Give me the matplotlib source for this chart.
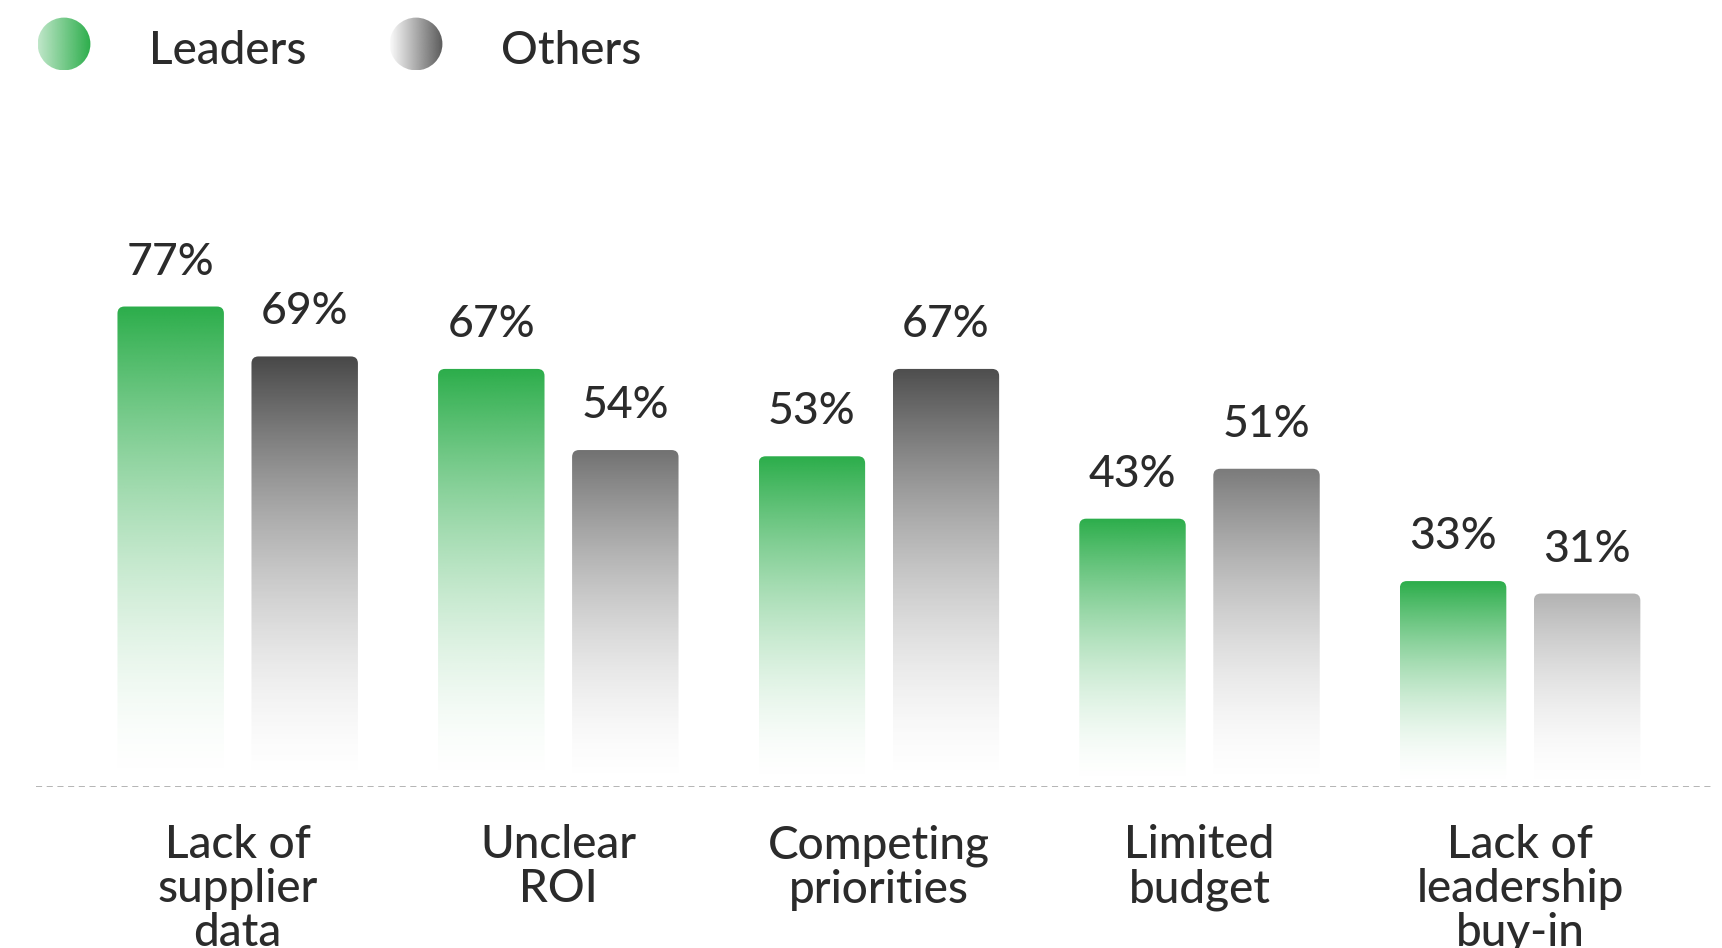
import numpy as np
import matplotlib
matplotlib.use("Agg")
import matplotlib.pyplot as plt
from matplotlib.patches import FancyBboxPatch, Circle
from matplotlib.colors import to_rgb

# survey results: share of respondents naming each barrier (%)
categories = ["Lack of\nsupplier\ndata", "Unclear\nROI", "Competing\npriorities",
              "Limited\nbudget", "Lack of\nleadership\nbuy-in"]
leaders = [77, 67, 53, 43, 33]
others = [69, 54, 67, 51, 31]
series_names = ["Leaders", "Others"]

GREEN = "#2bad4a"
TEXT = "#2b2b2b"
plt.rcParams["font.family"] = ["Lato", "DejaVu Sans"]

W, H = 1722, 948
fig = plt.figure(figsize=(W / 100, H / 100), dpi=100)
base_px = 787
ax = fig.add_axes([0, (H - base_px) / H, 1, 624 / H])
ax.set_xlim(-0.7414, 4.6297)
ax.set_ylim(0, 100)
ax.axis("off")

x = np.arange(len(categories))
width = 0.332
off = 0.209


def grad_bar(ax, xc, value, color, r_px=7, power=1.7):
    x0 = xc - width / 2
    sx = ax.bbox.width / np.ptp(ax.get_xlim())
    sy = ax.bbox.height / np.ptp(ax.get_ylim())
    patch = FancyBboxPatch((x0, 0), width, value,
                           boxstyle=f"round,pad=0,rounding_size={r_px / sx}",
                           mutation_aspect=sx / sy, fc="none", ec="none")
    ax.add_patch(patch)
    f = np.linspace(0, 1, 256)[:, None]
    rgba = np.zeros((256, 1, 4))
    rgba[..., :3] = to_rgb(color)
    rgba[..., 3] = (1 - f) ** power
    im = ax.imshow(rgba, extent=(x0, x0 + width, 0, value), aspect="auto",
                   origin="upper", interpolation="bilinear", zorder=2)
    im.set_clip_path(patch)


for i in x:
    grad_bar(ax, i - off, leaders[i], GREEN)
    # darker grey for the larger "Others" shares
    g = np.interp(others[i], [31, 69], [0.70, 0.28])
    grad_bar(ax, i + off, others[i], (g, g, g))
    for xc, v in ((i - off, leaders[i]), (i + off, others[i])):
        ax.annotate(f"{v}%", (xc, v), xytext=(0, 23), textcoords="offset points",
                    ha="center", va="baseline", fontsize=32, color=TEXT,
                    fontweight=500)
    ax.annotate(categories[i], (i, 0), xytext=(0, -27), textcoords="offset points",
                ha="center", va="top", multialignment="center",
                fontsize=33, color=TEXT, linespacing=1.05, fontweight=500,
                annotation_clip=False)

ax.axhline(0, xmin=0.021, xmax=0.995, color="#a0a0a0", lw=1.1,
           linestyle=(0, (4, 3)), zorder=1)
ax.set_xlim(-0.7414, 4.6297)
ax.set_ylim(0, 100)

# legend with gradient dots, drawn in pixel coordinates
lg = fig.add_axes([0, 0, 1, 1])
lg.set_xlim(0, W)
lg.set_ylim(H, 0)
lg.axis("off")
legend_dots = [(64, 44, GREEN, 0.3), (416, 44, "#5a5a5a", 0.03)]
legend_text_x = [149, 501]
for (cx, cy, col, a0), name, tx in zip(legend_dots, series_names, legend_text_x):
    r = 26.4
    circ = Circle((cx, cy), r, fc="none", ec="none")
    lg.add_patch(circ)
    rgba = np.zeros((1, 256, 4))
    rgba[..., :3] = to_rgb(col)
    rgba[..., 3] = np.linspace(a0, 1, 256)
    im = lg.imshow(rgba, extent=(cx - r, cx + r, cy + r, cy - r), aspect="auto",
                   interpolation="bilinear")
    im.set_clip_path(circ)
    lg.text(tx, 63.7, name, fontsize=33, color=TEXT, va="baseline", ha="left",
            fontweight=500)
lg.set_xlim(0, W)
lg.set_ylim(H, 0)

fig.savefig("out.png", dpi=100)
